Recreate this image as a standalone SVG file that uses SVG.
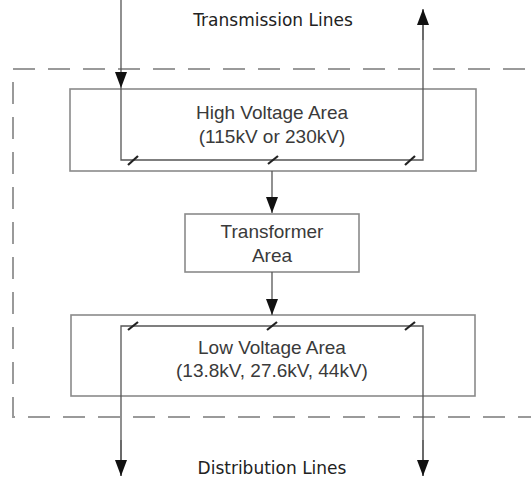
<svg xmlns="http://www.w3.org/2000/svg" width="531" height="477" viewBox="0 0 531 477">
<defs>
<style>
.box{fill:#fff;stroke:#8a8a8a;stroke-width:1.6}
.wire{fill:none;stroke:#555;stroke-width:1.3}
.tick{stroke:#222;stroke-width:2.2}
.dash{fill:none;stroke:#9a9a9a;stroke-width:2;stroke-dasharray:22 13}
.lbl{font-family:"Liberation Sans",Arial,sans-serif;font-size:19px;fill:#3a3a3a;text-anchor:middle}
.ttl{font-family:"DejaVu Sans",Verdana,sans-serif;font-size:17px;fill:#222;text-anchor:middle}
</style>
<marker id="ah" viewBox="0 0 16 12" refX="16" refY="6" markerWidth="16" markerHeight="12" markerUnits="userSpaceOnUse" orient="auto">
<path d="M0,0 L16,6 L0,12 Z" fill="#111"/>
</marker>
</defs>
<rect width="531" height="477" fill="#fff"/>
<path class="dash" d="M560,69 L13,69 L13,417 L560,417"/>
<g id="hv">
<rect class="box" x="70" y="89" width="406" height="82"/>
<text class="lbl" x="272" y="119">High Voltage Area</text>
<text class="lbl" x="272" y="143">(115kV or 230kV)</text>
</g>
<g id="transformer">
<rect class="box" x="185" y="214" width="174" height="58"/>
<text class="lbl" x="272" y="238">Transformer</text>
<text class="lbl" x="272" y="262">Area</text>
</g>
<g id="lv">
<rect class="box" x="71" y="315" width="404" height="81"/>
<text class="lbl" x="272" y="354">Low Voltage Area</text>
<text class="lbl" x="272" y="377">(13.8kV, 27.6kV, 44kV)</text>
</g>
<g id="labels">
<text class="ttl" x="273" y="26">Transmission Lines</text>
<text class="ttl" x="272" y="474">Distribution Lines</text>
</g>
<g id="connectors">
<line class="wire" x1="121" y1="0" x2="121" y2="88" marker-end="url(#ah)"/>
<polyline class="wire" points="121,88 121,160 423,160 423,10"/>
<line class="wire" x1="423" y1="40" x2="423" y2="9" marker-end="url(#ah)"/>
<line class="wire" x1="272" y1="171" x2="272" y2="213" marker-end="url(#ah)"/>
<line class="wire" x1="272" y1="272" x2="272" y2="315" marker-end="url(#ah)"/>
<polyline class="wire" points="121,476 121,326 423,326 423,476"/>
<line class="wire" x1="121" y1="440" x2="121" y2="476" marker-end="url(#ah)"/>
<line class="wire" x1="423" y1="440" x2="423" y2="476" marker-end="url(#ah)"/>
<line class="tick" x1="128" y1="165" x2="138" y2="156"/>
<line class="tick" x1="268" y1="164" x2="278" y2="156"/>
<line class="tick" x1="405" y1="165" x2="415" y2="156"/>
<line class="tick" x1="128" y1="330" x2="138" y2="322"/>
<line class="tick" x1="267" y1="330" x2="277" y2="322"/>
<line class="tick" x1="405" y1="330" x2="415" y2="322"/>
</g>
</svg>
